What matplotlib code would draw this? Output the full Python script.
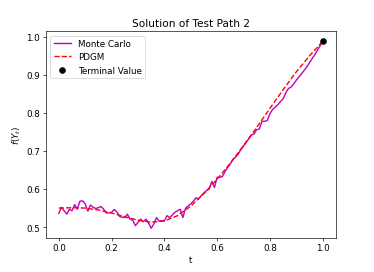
import numpy as np
import matplotlib
matplotlib.use('Agg')
import matplotlib.pyplot as plt

# Monte Carlo estimate on a grid of 101 times
t_mc = np.linspace(0.0, 1.0, 101)
mc = [0.536, 0.552, 0.543, 0.534, 0.547, 0.543, 0.559, 0.547, 0.568, 0.569,
      0.561, 0.542, 0.558, 0.552, 0.549, 0.551, 0.554, 0.547, 0.537, 0.537,
      0.539, 0.546, 0.540, 0.528, 0.526, 0.525, 0.534, 0.521, 0.518, 0.504,
      0.512, 0.521, 0.514, 0.521, 0.511, 0.497, 0.508, 0.525, 0.516, 0.517,
      0.517, 0.530, 0.525, 0.532, 0.539, 0.543, 0.547, 0.525, 0.549, 0.556,
      0.561, 0.568, 0.577, 0.574, 0.583, 0.590, 0.596, 0.600, 0.620, 0.604,
      0.631, 0.631, 0.633, 0.646, 0.657, 0.666, 0.678, 0.684, 0.692, 0.704,
      0.713, 0.723, 0.732, 0.742, 0.745, 0.756, 0.758, 0.778, 0.778, 0.780,
      0.798, 0.809, 0.815, 0.822, 0.830, 0.837, 0.853, 0.864, 0.868, 0.876,
      0.886, 0.895, 0.903, 0.912, 0.921, 0.932, 0.943, 0.953, 0.965, 0.976,
      0.989]

# PDGM solution
t_pdgm = [0.0, 0.05, 0.1, 0.15, 0.2, 0.25, 0.3, 0.35, 0.4, 0.45, 0.5,
          0.55, 0.6, 0.65, 0.7, 0.75, 0.8, 0.85, 0.9, 0.95, 1.0]
pdgm = [0.550, 0.551, 0.550, 0.545, 0.537, 0.527, 0.518, 0.513, 0.516, 0.530,
        0.555, 0.588, 0.626, 0.668, 0.714, 0.762, 0.812, 0.861, 0.908, 0.950,
        0.988]

t_term = [1.0]
term = [0.99]

plt.rcParams['font.size'] = 10.8
plt.rcParams['axes.titlesize'] = 13

fig = plt.figure(figsize=(6.4, 4.67), dpi=58.44)
ax = fig.add_subplot(111)
fig.subplots_adjust(left=0.122, right=0.898, top=0.882, bottom=0.126)

ax.plot(t_mc, mc, color='m', lw=1.7, label='Monte Carlo')
ax.plot(t_pdgm, pdgm, 'r--', lw=1.7, label='PDGM')
ax.plot(t_term, term, 'ko', ms=7, label='Terminal Value')

ax.set_title('Solution of Test Path 2')
ax.set_xlabel('t')
ax.set_ylabel('$f(Y_t)$')
ax.legend(loc='upper left')

fig.savefig('out.png', dpi=58.44)
